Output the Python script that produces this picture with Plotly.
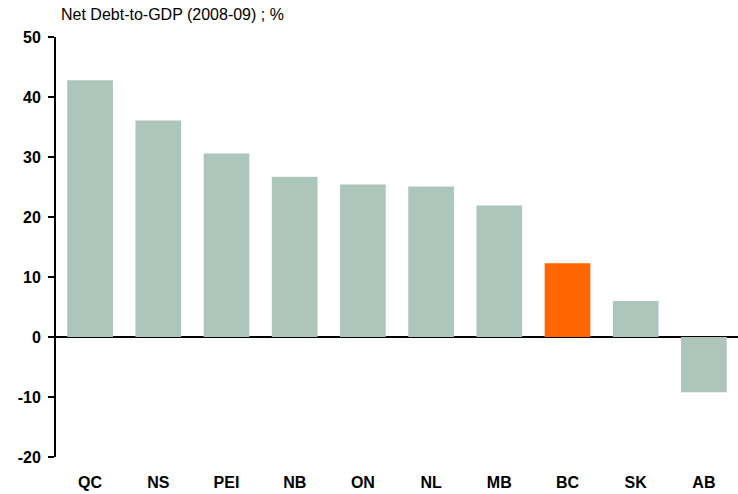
import plotly.graph_objects as go

provinces = ["QC", "NS", "PEI", "NB", "ON", "NL", "MB", "BC", "SK", "AB"]
net_debt_pct = [42.8, 36.1, 30.6, 26.7, 25.4, 25.1, 21.9, 12.3, 6.0, -9.2]
highlight = "BC"
y_ticks = [-20, -10, 0, 10, 20, 30, 40, 50]
y_tick_labels = ["-20", "-10", "0", "10", "20", "30", "40", "50"]

colors = ["#FF6600" if p == highlight else "#ADC6BB" for p in provinces]

fig = go.Figure(go.Bar(
    x=provinces, y=net_debt_pct, marker_color=colors, marker_line_width=0,
    width=0.67,
))

fig.update_layout(
    width=738, height=494,
    margin=dict(l=56, r=0, t=37, b=37),
    paper_bgcolor="white", plot_bgcolor="white",
    font=dict(family="Liberation Sans, Arial, sans-serif", color="black"),
    showlegend=False, bargap=0.33,
    annotations=[dict(
        text="Net Debt-to-GDP (2008-09) ; %",
        x=(59 - 56) / (738 - 56), y=1 + (37 - 15) / (494 - 74),
        xref="paper", yref="paper",
        showarrow=False, font=dict(size=16), xanchor="left", yanchor="middle",
    )],
)

fig.update_xaxes(
    range=[-0.5, 9.5], showline=False, showgrid=False, ticks="",
    tickfont=dict(size=16, family="Liberation Sans, Arial, sans-serif", weight="bold"),
    ticklabelstandoff=14,
)
fig.update_yaxes(
    range=[-20, 50], tickvals=y_ticks, ticktext=y_tick_labels, showgrid=False,
    showline=True, linecolor="black", linewidth=2,
    ticks="outside", ticklen=6, tickwidth=2, tickcolor="black",
    tickfont=dict(size=16, family="Liberation Sans, Arial, sans-serif", weight="bold"),
    ticklabelstandoff=4,
    zeroline=True, zerolinecolor="black", zerolinewidth=2,
)

fig.write_html("out.html")
